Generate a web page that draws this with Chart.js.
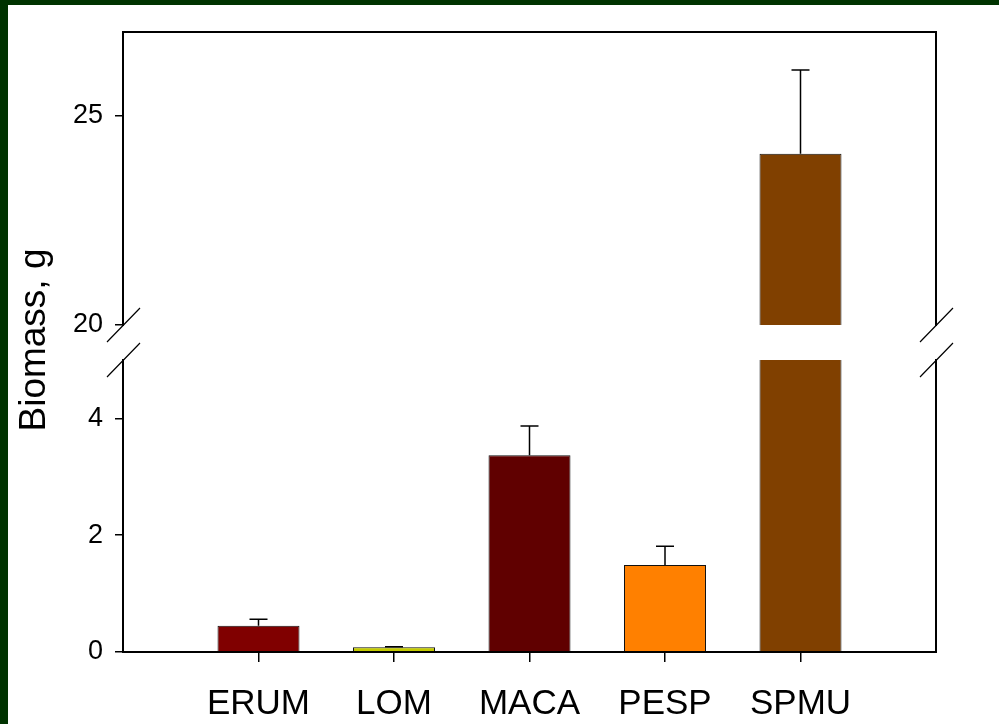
<!DOCTYPE html>
<html>
<head>
<meta charset="utf-8">
<script src="https://cdn.jsdelivr.net/npm/chart.js@4.4.0/dist/chart.umd.min.js"></script>
<style>
  html, body { margin: 0; padding: 0; background: #fff; }
  #page { position: relative; width: 999px; height: 724px; overflow: hidden; background: #fff; }
  .strip { position: absolute; left: 0; top: 0; background: #003300; }
  canvas { position: absolute; left: 0; top: 0; }
</style>
</head>
<body>
<div id="page">
  <div class="strip" style="width:999px;height:5px"></div>
  <div class="strip" style="width:8px;height:724px"></div>
  <canvas id="upper" width="999" height="724"></canvas>
  <canvas id="lower" width="999" height="724"></canvas>
</div>
<script>
const categories = ["ERUM", "LOM", "MACA", "PESP", "SPMU"];
const means = [0.45, 0.08, 3.37, 1.49, 24.09];
const errors = [0.11, 0.01, 0.5, 0.32, 2.0];
const barColors = ["#800000", "#c3ca00", "#600000", "#ff8000", "#804000"];
const lowerRange = [0, 5];
const upperRange = [20, 27];
const lowerTicks = [0, 2, 4];
const upperTicks = [20, 25];

// bars sit at 1..5 on an axis running 0..6, so pad both ends
const labels = ["", ...categories, ""];
const pad = (arr) => [null, ...arr, null];

const FONT = "'Liberation Sans', Arial, sans-serif";
Chart.defaults.font.family = FONT;
Chart.defaults.color = "#000";

// vertical line + cap above each bar, clipped to the chart area
const errorBars = {
  id: "errorBars",
  afterDatasetsDraw(chart) {
    const meta = chart.getDatasetMeta(0);
    const y = chart.scales.y;
    const a = chart.chartArea;
    const ctx = chart.ctx;
    ctx.save();
    ctx.beginPath();
    ctx.rect(a.left, a.top, a.right - a.left, a.bottom - a.top);
    ctx.clip();
    ctx.strokeStyle = "#000";
    ctx.lineWidth = 1.5;
    meta.data.forEach((bar, i) => {
      const k = i - 1;
      if (k < 0 || k >= means.length) return;
      const top = y.getPixelForValue(means[k] + errors[k]);
      ctx.beginPath();
      ctx.moveTo(bar.x, bar.y);
      ctx.lineTo(bar.x, top);
      ctx.moveTo(bar.x - 9, top);
      ctx.lineTo(bar.x + 9, top);
      ctx.stroke();
    });
    ctx.restore();
  },
};

// box around the panel, open on the side of the axis break
const frame = {
  id: "frame",
  afterDraw(chart, args, opts) {
    const { left, right, top, bottom } = chart.chartArea;
    const ctx = chart.ctx;
    const closed = opts.side === "top" ? top : bottom;
    const open = opts.side === "top" ? bottom : top;
    ctx.save();
    ctx.strokeStyle = "#000";
    ctx.lineWidth = 2;
    ctx.lineCap = "square";
    ctx.beginPath();
    ctx.moveTo(left, top); ctx.lineTo(left, bottom);
    ctx.moveTo(right, top); ctx.lineTo(right, bottom);
    ctx.moveTo(left, closed); ctx.lineTo(right, closed);
    ctx.stroke();
    ctx.lineWidth = 1.2;
    ctx.lineCap = "butt";
    ctx.beginPath();
    for (const x of [left, right]) {
      ctx.moveTo(x - 16, open + 17);
      ctx.lineTo(x + 17, open - 17);
    }
    ctx.stroke();
    ctx.restore();
  },
};

const yTitle = {
  id: "yTitle",
  afterDraw(chart) {
    const ctx = chart.ctx;
    ctx.save();
    ctx.translate(45, 340);
    ctx.rotate(-Math.PI / 2);
    ctx.font = "37px " + FONT;
    ctx.fillStyle = "#000";
    ctx.textAlign = "center";
    ctx.textBaseline = "alphabetic";
    ctx.fillText("Biomass, g", 0, 0);
    ctx.restore();
  },
};

function makeChart(id, range, ticks, padding, isLower) {
  return new Chart(document.getElementById(id), {
    type: "bar",
    data: {
      labels,
      datasets: [{
        data: pad(means),
        backgroundColor: pad(barColors),
        borderColor: "#111",
        borderWidth: 1,
        clip: 0,
        categoryPercentage: 1,
        barPercentage: 0.605,
      }],
    },
    options: {
      responsive: false,
      animation: false,
      devicePixelRatio: 1,
      layout: { padding },
      plugins: {
        legend: { display: false },
        tooltip: { enabled: false },
        frame: { side: isLower ? "bottom" : "top" },
      },
      scales: {
        x: {
          display: isLower,
          offset: false,
          border: { display: false },
          grid: {
            offset: false,
            drawOnChartArea: false,
            tickLength: 10,
            lineWidth: 1.5,
            tickColor: (c) => (c.index === 0 || c.index === labels.length - 1 ? "rgba(0,0,0,0)" : "#000"),
          },
          ticks: { autoSkip: false, maxRotation: 0, padding: 21, font: { size: 35 } },
          afterFit: (s) => { if (isLower) s.height = 72; },
        },
        y: {
          min: range[0],
          max: range[1],
          border: { display: false },
          grid: { drawOnChartArea: false, tickLength: 8, lineWidth: 1.5, tickColor: "#000" },
          ticks: { padding: 12, font: { size: 27 } },
          afterBuildTicks: (s) => { s.ticks = ticks.map((v) => ({ value: v })); },
          afterFit: (s) => { s.width = 123; },
        },
      },
    },
    plugins: isLower ? [errorBars, frame, yTitle] : [errorBars, frame],
  });
}

makeChart("upper", upperRange, upperTicks, { top: 32, left: 0, right: 63, bottom: 399 }, false);
makeChart("lower", lowerRange, lowerTicks, { top: 360, left: 0, right: 63, bottom: 0 }, true);
</script>
</body>
</html>
